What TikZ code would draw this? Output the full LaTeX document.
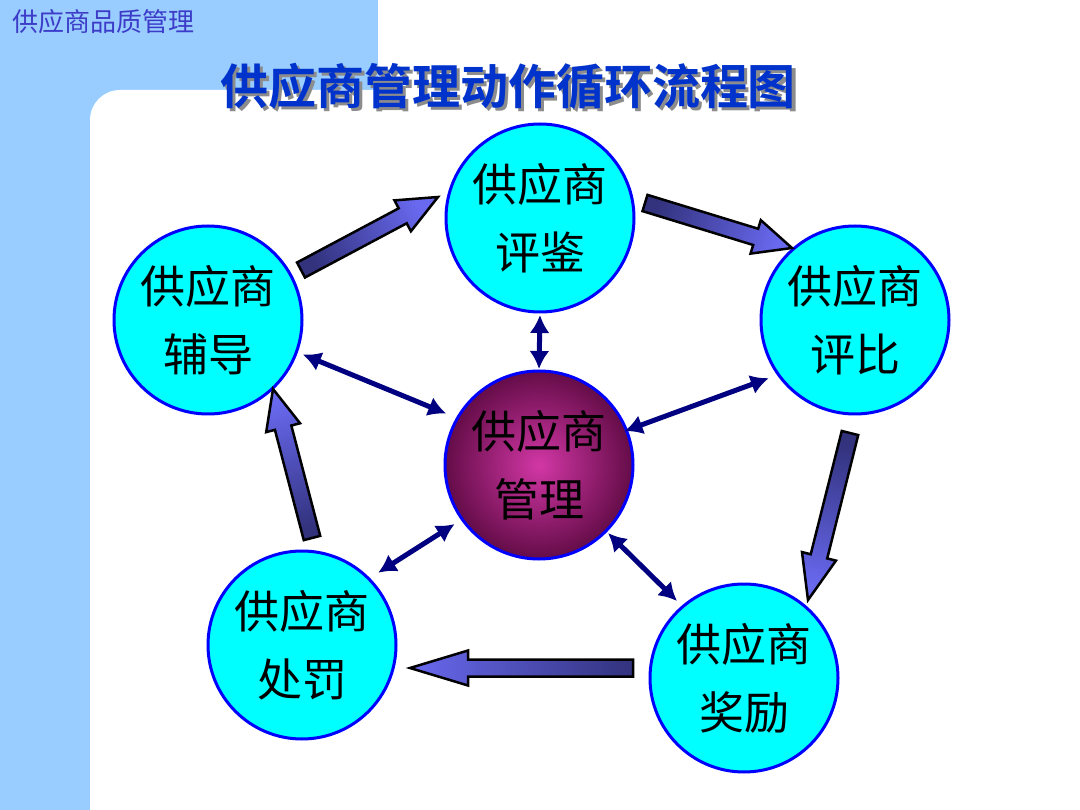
\documentclass[tikz,border=0pt]{standalone}
\usepackage{fontspec}
\newfontfamily\cjk{Noto Sans CJK SC}[BoldFont={* Bold}]
\usetikzlibrary{calc,arrows.meta}
\definecolor{bgblue}{RGB}{153,204,255}
\definecolor{titleblue}{RGB}{0,51,204}
\definecolor{navyarr}{RGB}{0,0,128}
\definecolor{arlight}{RGB}{105,105,240}
\definecolor{ardark}{RGB}{50,50,125}
\definecolor{cyanfill}{RGB}{0,255,255}
\definecolor{ringblue}{RGB}{0,0,255}
\definecolor{magin}{RGB}{210,55,165}
\definecolor{magout}{RGB}{100,12,72}
\definecolor{subblue}{RGB}{60,60,200}
\tikzset{
  supp/.style={circle, draw=ringblue, line width=3pt, fill=cyanfill, minimum size=188pt,
    inner sep=0pt, align=center, font=\cjk\fontsize{45}{68}\selectfont},
  centre/.style={circle, draw=ringblue, line width=3pt, inner color=magin, outer color=magout,
    minimum size=188pt, inner sep=0pt, align=center, font=\cjk\fontsize{45}{68}\selectfont},
  dbl/.style={navyarr, line width=5pt, {Latex[length=18pt,width=20pt]}-{Latex[length=18pt,width=20pt]}},
  barrow/.style={draw=black, line width=2.5pt, top color=arlight, bottom color=ardark}
}
\newcommand\blockarr[4]{%
  \coordinate (#1h) at ($(#2)!#4pt!(#1)$);
  \shadedraw[barrow, shading angle=#3]
    ($(#1)!8.5pt!90:(#2)$) -- ($(#1h)!8.5pt!90:(#2)$) -- ($(#1h)!17.5pt!90:(#2)$) --
    (#2) -- ($(#1h)!17.5pt!-90:(#2)$) -- ($(#1h)!8.5pt!-90:(#2)$) --
    ($(#1)!8.5pt!-90:(#2)$) -- cycle;
}
\begin{document}
\begin{tikzpicture}[x=1pt,y=-1pt]
\useasboundingbox (0,0) rectangle (1080,810);
\begin{scope}
  \clip (0,0) rectangle (1080,810);
  \fill[white] (0,0) rectangle (1080,810);
  \fill[bgblue] (0,0) rectangle (378,810);
  \fill[white, rounded corners=30pt] (90,90) rectangle (1130,860);
\end{scope}
\node[anchor=west, text=subblue, font=\cjk\fontsize{26}{30}\selectfont, inner sep=0pt] (sub) at (12,22) {供应商品质管理};
\node[text=black!45, font=\cjk\bfseries\fontsize{48}{56}\selectfont, inner sep=0pt] (titleshadow) at (511,89) {供应商管理动作循环流程图};
\node[text=titleblue, font=\cjk\bfseries\fontsize{48}{56}\selectfont, inner sep=0pt] (title) at (508,86) {供应商管理动作循环流程图};

\node[supp] (pingjian) at (540,218) {供应商\\评鉴};
\node[supp] (fudao) at (208,320) {供应商\\辅导};
\node[supp] (pingbi) at (855,320) {供应商\\评比};
\node[centre] (guanli) at (539,465) {供应商\\管理};
\node[supp] (chufa) at (302,645) {供应商\\处罚};
\node[supp] (jiangli) at (744,678) {供应商\\奖励};

\draw[dbl] ($(pingjian)+(-90:97pt)$) -- ($(guanli)+(90:96pt)$);
\draw[dbl] ($(fudao)+(340:101pt)$) -- ($(guanli)+(151:106pt)$);
\draw[dbl] ($(pingbi)+(214:104pt)$) -- ($(guanli)+(21.6:92pt)$);
\draw[dbl] ($(chufa)+(43.5:105pt)$) -- ($(guanli)+(215:103pt)$);
\draw[dbl] ($(jiangli)+(131:102pt)$) -- ($(guanli)+(-44.6:97pt)$);

\coordinate (t1) at (301,270); \coordinate (p1) at (438,197);
\coordinate (t2) at (645,203); \coordinate (p2) at (792,248);
\coordinate (t3) at (850,433); \coordinate (p3) at (808,600);
\coordinate (t4) at (633,668); \coordinate (p4) at (410,668);
\coordinate (t5) at (312,538); \coordinate (p5) at (273,389);
\blockarr{t1}{p1}{-62}{40}
\blockarr{t2}{p2}{-107}{38}
\blockarr{t3}{p3}{166}{45}
\blockarr{t4}{p4}{90}{58}
\blockarr{t5}{p5}{14.7}{40}
\end{tikzpicture}
\end{document}
